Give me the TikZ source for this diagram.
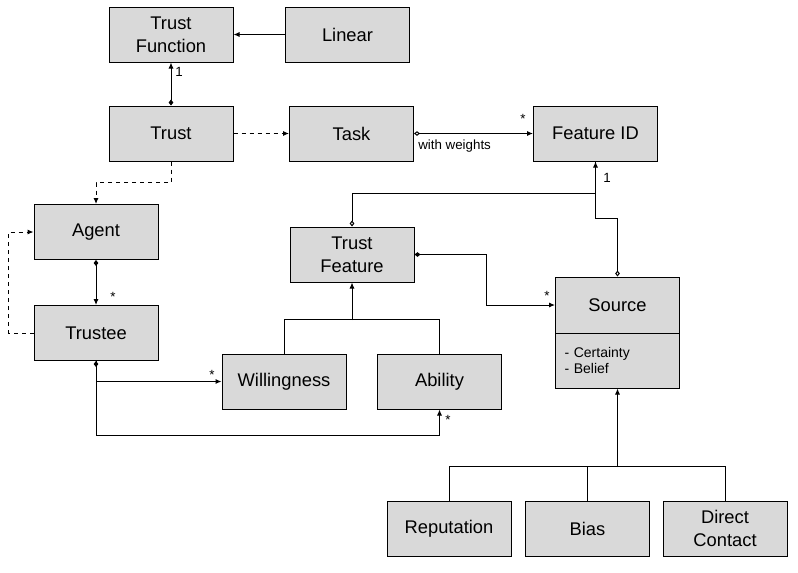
\documentclass[tikz,border=0pt]{standalone}
\usepackage{fontspec}
\setmainfont{Liberation Sans}
\usetikzlibrary{arrows.meta}

\definecolor{boxgray}{HTML}{D9D9D9}

\tikzset{
  box/.style={draw, fill=boxgray, line width=0.75pt, minimum width=93pt, minimum height=41.25pt,
    inner sep=0pt, align=center, font=\fontsize{13.75}{17}\selectfont},
  conn/.style={line width=0.75pt},
  arr/.style={conn, -{Latex[length=4.5pt,width=3.8pt]}},
  small/.style={font=\fontsize{10}{12}\selectfont, inner sep=0pt},
  fulldia/.style={{Diamond[length=4.5pt,width=3.5pt]}-{Latex[length=4.5pt,width=3.8pt]}},
  opendia/.style={{Diamond[open,length=4.5pt,width=3.5pt]}-{Latex[length=4.5pt,width=3.8pt]}}
}

\begin{document}
\begin{tikzpicture}[x=0.75pt,y=-0.75pt]
  \useasboundingbox (0,0) rectangle (798,572);

  % top row
  \node[box] (trustfn) at (171,34.5) {Trust\\Function};
  \node[box] (linear) at (347.5,34.5) {Linear};
  \node[box] (trust) at (171,133.5) {Trust};
  \node[box] (task) at (351.5,133.5) {Task};
  \node[box] (featid) at (595.5,133.5) {Feature ID};

  % agents
  \node[box] (agent) at (96,232) {Agent};
  \node[box] (trustee) at (96,333) {Trustee};
  \node[box] (willing) at (284,381.5) {Willingness};
  \node[box] (ability) at (439.5,381.5) {Ability};

  % features and sources
  \node[box] (trustfeat) at (352,254.5) {Trust\\Feature};
  \node[box, minimum height=42pt] (source) at (617.5,305) {Source};
  \node[box, minimum height=41.25pt, text width=79.5pt, align=left, inner xsep=6.75pt,
    font=\fontsize{10.5}{12}\selectfont] (srcattr) at (617.5,360.5) {- Certainty\\- Belief};
  \node[box] (reput) at (449,528.5) {Reputation};
  \node[box] (bias) at (587.5,528.5) {Bias};
  \node[box] (direct) at (725,528.5) {Direct\\Contact};

  \coordinate (featjoin) at (352,320);
  \coordinate (srcjoin) at (617.5,467);

  % connectors
  \draw[arr] (linear) -- (trustfn);
  \draw[conn, fulldia] (trust.north) -- (trustfn.south);
  \node[small] at (179,72) {1};
  \draw[arr, dashed] (trust) -- (task);
  \draw[conn, opendia] (task) -- (featid);
  \node[small, anchor=west] at (418,146) {with weights};
  \node[small] at (523,119) {*};

  \draw[arr, dashed] (trust.south) -- ++(0,21) -| (agent.north);
  \draw[arr, dashed] (trustee.west) -- ++(-25,0) |- (agent.west);
  \draw[conn, fulldia] (agent.south) -- (trustee.north);
  \node[small] at (113,297) {*};
  \draw[conn, fulldia] (trustee.south) |- (willing.west);
  \node[small] at (212,375) {*};
  \draw[arr] (trustee.south) -- ++(0,74) -| (ability.south);
  \node[small] at (448,420) {*};

  \draw[conn] (willing.north) -- ++(0,-34) -| (ability.north);
  \draw[arr] (featjoin) -- (trustfeat.south);

  \draw[conn, opendia] (trustfeat.north) -- ++(0,-33) -| (featid.south);
  \node[small] at (607,178) {1};
  \draw[conn, {Diamond[open,length=4.5pt,width=3.5pt]}-] (source.north) -- ++(0,-58) -| (featid.south);
  \draw[conn, fulldia] (trustfeat.east) -- ++(72,0) |- (source.west);
  \node[small] at (547,296) {*};

  \draw[conn] (reput.north) -- ++(0,-34) -| (direct.north);
  \draw[conn] (bias.north) -- ++(0,-34);
  \draw[arr] (srcjoin) -- (srcattr.south);
\end{tikzpicture}
\end{document}
